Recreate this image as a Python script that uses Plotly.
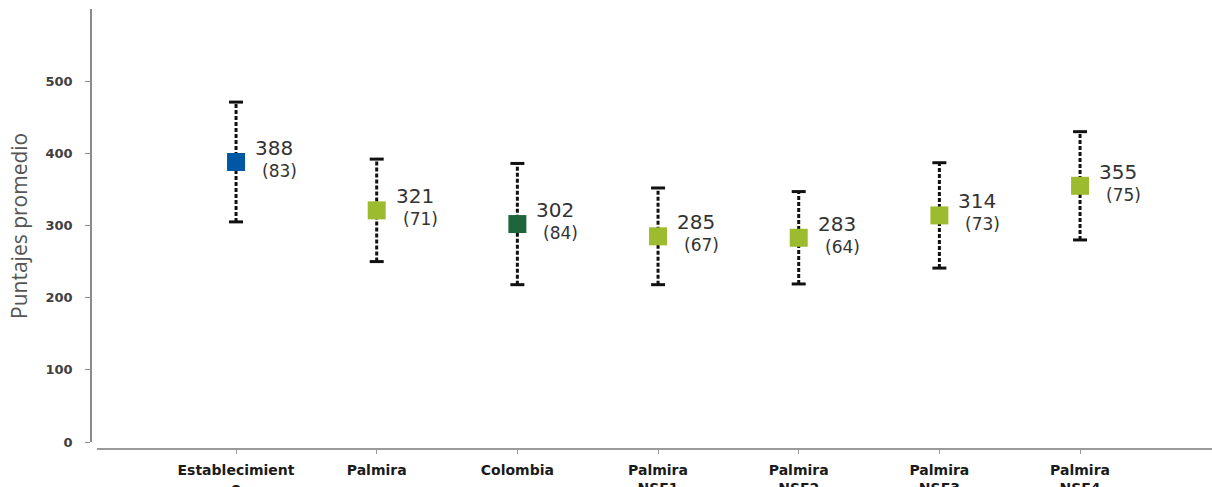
import plotly.graph_objects as go

categories = ["Establecimient<br>o", "Palmira", "Colombia", "Palmira<br>NSE1",
              "Palmira<br>NSE2", "Palmira<br>NSE3", "Palmira<br>NSE4"]
means = [388, 321, 302, 285, 283, 314, 355]
sds = [83, 71, 84, 67, 64, 73, 75]
colors = ["#0057A3", "#9DBB2F", "#1E663A", "#9DBB2F", "#9DBB2F", "#9DBB2F", "#9DBB2F"]
y_ticks = [0, 100, 200, 300, 400, 500]

xs = list(range(len(categories)))
lows = [m - s for m, s in zip(means, sds)]
highs = [m + s for m, s in zip(means, sds)]

fig = go.Figure()

# dashed error bars
ex, ey = [], []
for x, lo, hi in zip(xs, lows, highs):
    ex += [x, x, None]
    ey += [lo, hi, None]
fig.add_trace(go.Scatter(x=ex, y=ey, mode="lines",
                         line=dict(color="#111111", width=3, dash="4px,2px"),
                         hoverinfo="skip", showlegend=False))
# caps
fig.add_trace(go.Scatter(x=xs + xs, y=lows + highs, mode="markers",
                         marker=dict(symbol="line-ew", size=10,
                                     line=dict(color="#111111", width=3)),
                         hoverinfo="skip", showlegend=False))
# means
fig.add_trace(go.Scatter(x=xs, y=means, mode="markers",
                         marker=dict(symbol="square", size=18, color=colors,
                                     line=dict(width=0)),
                         showlegend=False))

for x, m, s in zip(xs, means, sds):
    fig.add_annotation(x=x, y=m, text=str(m), showarrow=False,
                       xanchor="left", yanchor="middle", xshift=17, yshift=14,
                       font=dict(family="DejaVu Sans", size=20, color="#333333"))
    fig.add_annotation(x=x, y=m, text=f"({s})", showarrow=False,
                       xanchor="left", yanchor="middle", xshift=24, yshift=-9,
                       font=dict(family="DejaVu Sans", size=17, color="#333333"))

fig.add_annotation(x=-0.0642, y=0.507, xref="paper", yref="paper",
                   xanchor="center", yanchor="middle",
                   text="Puntajes promedio", textangle=-90, showarrow=False,
                   font=dict(family="Open Sans", size=21, color="#555555"))

fig.update_layout(
    width=1212, height=487,
    margin=dict(l=91, r=0, t=9, b=38, autoexpand=False),
    plot_bgcolor="white", paper_bgcolor="white",
    xaxis=dict(domain=[0.0054, 1], range=[-0.988, 6.938],
               tickvals=xs, ticktext=categories, showgrid=False, zeroline=False,
               showline=True, linecolor="#9A9A9A", linewidth=2,
               ticks="outside", ticklen=4, tickcolor="#9A9A9A", tickwidth=1,
               ticklabelstandoff=4,
               tickfont=dict(family="DejaVu Sans", size=14, color="#1A1A1A", weight="bold"),
               anchor="free", position=0, automargin=False),
    yaxis=dict(domain=[0.0159, 1], range=[0, 600],
               tickvals=y_ticks, showgrid=False, zeroline=False,
               showline=True, linecolor="#8A8A8A", linewidth=1.5,
               ticks="outside", ticklen=5, tickcolor="#8A8A8A",
               ticklabelstandoff=10,
               tickfont=dict(family="DejaVu Sans", size=13, color="#404040", weight="bold"),
               anchor="free", position=0, automargin=False),
)

fig.write_html("out.html", config={"displayModeBar": False},
               post_script="document.body.style.margin='0';document.body.style.overflow='hidden';")
